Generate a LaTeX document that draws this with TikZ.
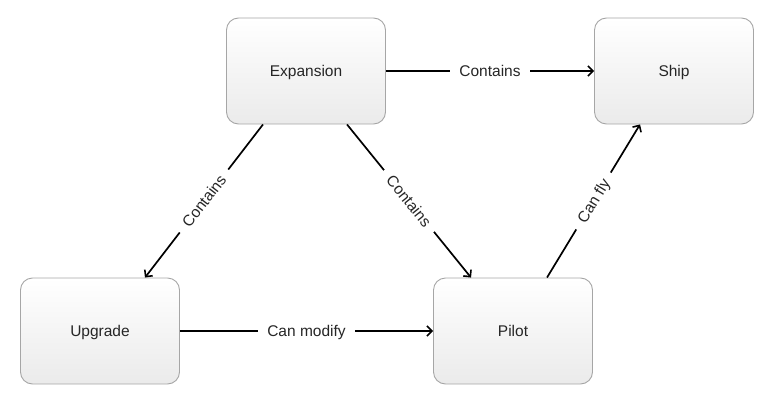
\documentclass[tikz,border=0pt]{standalone}
\usepackage{fontspec}
\setmainfont{Liberation Sans}
\usetikzlibrary{arrows.meta,positioning}

\begin{document}
\begin{tikzpicture}[x=1pt,y=1pt,
  entity/.style={draw=black!35,line width=0.9pt,rounded corners=12pt,
    top color=white,bottom color=black!8,minimum width=159pt,minimum height=106pt,
    text=black!85,text height=11pt,text depth=0pt,font=\fontsize{15.5}{18}\selectfont},
  rel/.style={line width=1.7pt,-{Straight Barb[length=5pt,width=10pt,line width=1.6pt]}},
  lbl/.style={fill=white,inner xsep=9pt,inner ysep=4pt,text=black!85,
    text height=11pt,text depth=0pt,font=\fontsize{15.5}{18}\selectfont}]
\useasboundingbox (0,0) rectangle (778,408);
\node[entity] (Expansion) at (306,337) {Expansion};
\node[entity] (Ship) at (674,337) {Ship};
\node[entity] (Upgrade) at (100,77) {Upgrade};
\node[entity] (Pilot) at (513,77) {Pilot};
\draw[rel] (Expansion.east) -- node[lbl] {Contains} (Ship.west);
\draw[rel] ([xshift=-43pt]Expansion.south) -- node[lbl,sloped] {Contains} ([xshift=45pt]Upgrade.north);
\draw[rel] ([xshift=41pt]Expansion.south) -- node[lbl,sloped] {Contains} ([xshift=-42pt]Pilot.north);
\draw[rel] ([xshift=34pt]Pilot.north) -- node[lbl,sloped] {Can fly} ([xshift=-34pt]Ship.south);
\draw[rel] (Upgrade.east) -- node[lbl] {Can modify} (Pilot.west);
\end{tikzpicture}
\end{document}
